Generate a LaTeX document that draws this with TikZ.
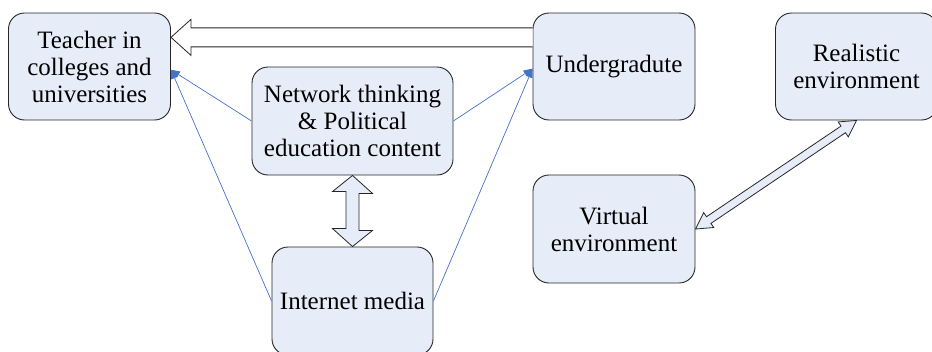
\documentclass[tikz,border=0pt]{standalone}
\usepackage{fontspec}
\setmainfont{Liberation Serif}
\usepackage{xcolor}
\usetikzlibrary{arrows.meta, calc}
\definecolor{boxfill}{RGB}{231,237,248}
\definecolor{linkblue}{RGB}{68,114,196}

\begin{document}
\begin{tikzpicture}[
    x=1pt, y=-1pt,
    box/.style={rectangle, rounded corners=16pt, draw=black!85, line width=0.9pt, fill=boxfill,
        minimum width=162pt, minimum height=107pt, align=center, inner sep=2pt,
        font=\fontsize{25}{27}\selectfont},
    link/.style={-{Triangle[length=9pt, width=7pt]}, draw=linkblue, line width=0.7pt},
    fat/.style={draw=black!85, line width=0.8pt, line join=miter}
]
\useasboundingbox (0,0) rectangle (932,351);

% Nodes
\node[box] (T) at (89.5,66.5) {Teacher in\\colleges and\\universities};
\node[box] (U) at (614,66.5) {Undergradute};
\node[box] (R) at (856.5,66.5) {Realistic\\environment};
\node[box, minimum width=201pt, minimum height=108pt] (N) at (352.5,121) {Network thinking\\\& Political\\education content};
\node[box, minimum width=161pt, minimum height=108pt] (I) at (352.5,301) {Internet media};
\node[box, minimum height=108pt] (V) at (614,229) {Virtual\\environment};

% Ends of the connectors
\coordinate (tip) at ($(T.north east)!0.23!(T.south east)$);
\coordinate (tail) at ($(U.north west)!0.23!(U.south west)$);
\coordinate (tin) at ($(T.north east)!0.53!(T.south east)$);
\coordinate (uin) at ($(U.north west)!0.52!(U.south west)$);

% Hollow arrow Undergradute -> Teacher
\draw[fat, fill=white] ($(tail)+(0,-9.5)$) -- ($(tip)+(20,-9.5)$) -- ($(tip)+(20,-18)$) -- (tip)
    -- ($(tip)+(20,18)$) -- ($(tip)+(20,9.5)$) -- ($(tail)+(0,9.5)$);

% Double arrow Network <-> Internet media
\draw[fat, fill=boxfill] (N.south) -- ++(20,18) -- ++(-13.5,0) -- ++(0,37) -- ++(13.5,0) -- (I.north)
    -- ++(-20,-18) -- ++(13.5,0) -- ++(0,-37) -- ++(-13.5,0) -- cycle;

% Double arrow Virtual <-> Realistic
\coordinate (a1) at ($(V.east)!16pt!(R.south)$);
\coordinate (b1) at ($(R.south)!16pt!(V.east)$);
\draw[fat, fill=boxfill] (V.east) -- ($(a1)!9pt!90:(R.south)$) -- ($(a1)!4pt!90:(R.south)$)
    -- ($(b1)!4pt!-90:(V.east)$) -- ($(b1)!9pt!-90:(V.east)$) -- (R.south)
    -- ($(b1)!9pt!90:(V.east)$) -- ($(b1)!4pt!90:(V.east)$)
    -- ($(a1)!4pt!-90:(R.south)$) -- ($(a1)!9pt!-90:(R.south)$) -- cycle;

% Blue links
\draw[link] (N.west) -- (tin);
\draw[link] (I.west) -- (tin);
\draw[link] (N.east) -- (uin);
\draw[link] (I.east) -- (uin);

\end{tikzpicture}
\end{document}
